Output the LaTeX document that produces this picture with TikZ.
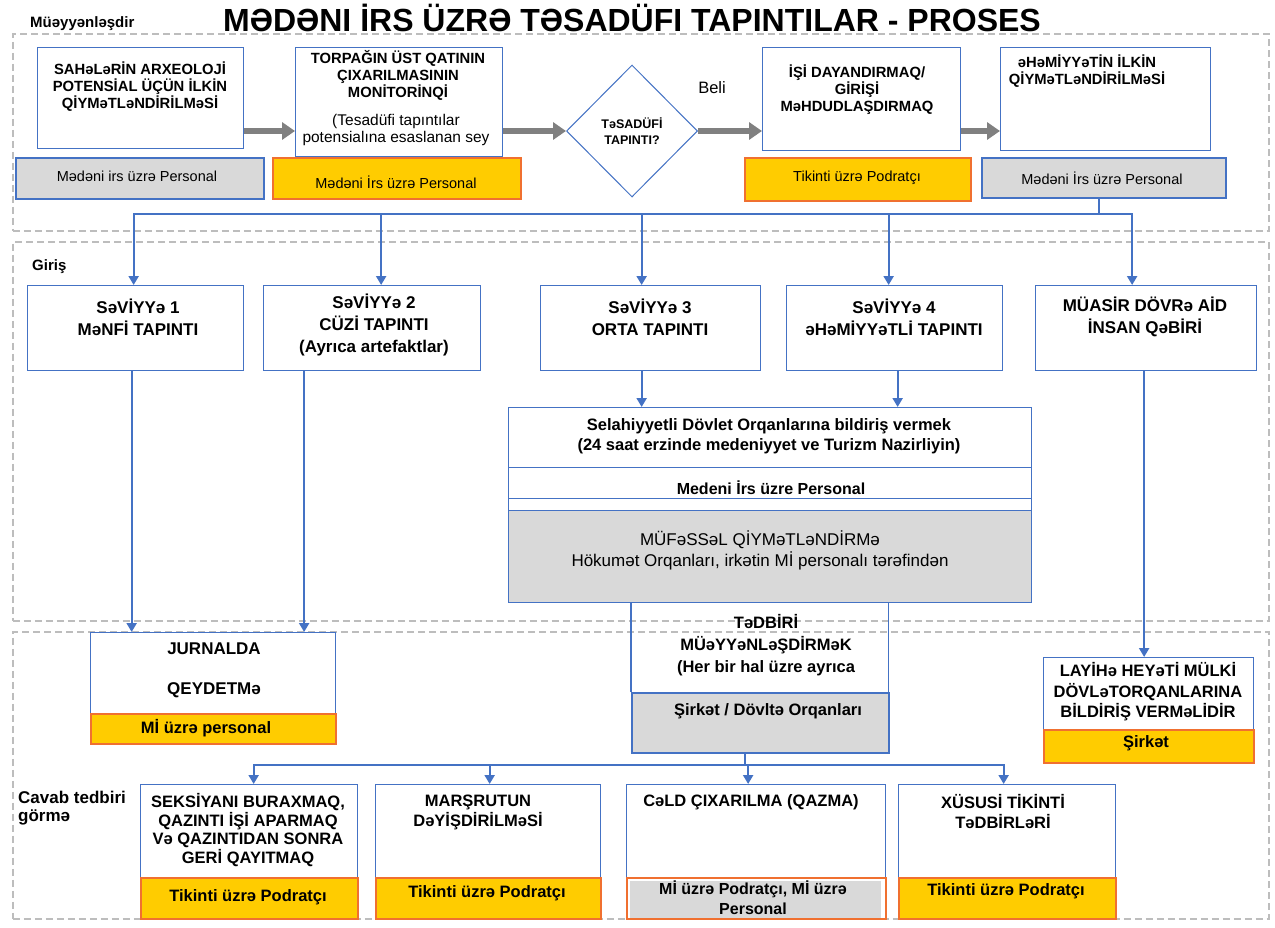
\documentclass[tikz,border=0pt]{standalone}
\usepackage{fontspec}
\setmainfont{Liberation Sans}
\usetikzlibrary{arrows.meta,calc,shapes.geometric}
\definecolor{bblue}{HTML}{4472C4}
\definecolor{lgray}{HTML}{D9D9D9}
\definecolor{yel}{HTML}{FFCC00}
\definecolor{org}{HTML}{F07030}
\definecolor{agray}{HTML}{808080}
\definecolor{rgray}{HTML}{BDBDBD}
\tikzset{
  region/.style={draw=rgray, line width=1.6pt, dash pattern=on 7pt off 4pt, anchor=north west, inner sep=0},
  wbox/.style={draw=bblue, line width=1.3pt, fill=white, anchor=north west, inner sep=0},
  glab/.style={draw=bblue, line width=1.5pt, fill=lgray, anchor=north west, inner sep=0},
  ylab/.style={draw=org, line width=1.5pt, fill=yel, anchor=north west, inner sep=0},
  hd/.style={font=\bfseries\fontsize{14.8}{17}\selectfont, align=center, inner sep=0},
  lvl/.style={font=\bfseries\fontsize{17}{22}\selectfont, align=center, inner sep=0},
  lb/.style={font=\fontsize{14.5}{17}\selectfont, align=center, inner sep=0},
  lbb/.style={font=\bfseries\fontsize{16.5}{20}\selectfont, align=center, inner sep=0},
  big/.style={font=\bfseries\fontsize{16.5}{20}\selectfont, align=center, inner sep=0},
  barrow/.style={draw=bblue, line width=2.2pt, -{Triangle[length=9pt,width=10pt]}},
  bline/.style={draw=bblue, line width=2.2pt, line cap=rect},
  garrow/.style={draw=agray, line width=6pt, -{Triangle[length=13pt,width=17pt]}},
}
\begin{document}
\begin{tikzpicture}[x=1pt,y=-1pt]
\fill[white] (0,0) rectangle (1275,927);
\useasboundingbox (0,0) rectangle (1275,927);

% regions
\node[region, minimum width=1256pt, minimum height=197pt] (R1) at (12,33) {};
\node[region, minimum width=1256pt, minimum height=379pt] (R2) at (12,241) {};
\node[region, minimum width=1256pt, minimum height=287pt] (R3) at (12,631) {};

\node[font=\bfseries\fontsize{32}{34}\selectfont, inner sep=0, anchor=base] (title) at (632,31) {MƏDƏNI İRS ÜZRƏ TƏSADÜFI TAPINTILAR - PROSES};
\node[font=\bfseries\fontsize{15}{17}\selectfont, anchor=base west, inner sep=0] (s1) at (30,27) {Müəyyənləşdir};
\node[font=\bfseries\fontsize{15}{17}\selectfont, anchor=base west, inner sep=0] (s2) at (32,270) {Giriş};
\node[font=\bfseries\fontsize{17}{19}\selectfont, anchor=base west, inner sep=0] (s3a) at (18,803) {Cavab tedbiri};
\node[font=\bfseries\fontsize{17}{19}\selectfont, anchor=base west, inner sep=0] (s3b) at (18,821) {görmə};

% top row
\node[wbox, minimum width=206pt, minimum height=101pt] (A) at (37,47) {};
\node[glab, minimum width=248pt, minimum height=41pt] (Al) at (15,157) {};
\node[wbox, minimum width=207pt, minimum height=109pt] (B) at (295,47) {};
\node[ylab, minimum width=248pt, minimum height=41pt] (Bl) at (272,157) {};
\node[diamond, draw=bblue, line width=1pt, fill=white, minimum width=131pt, minimum height=132pt, inner sep=0, font=\bfseries\fontsize{12.5}{16}\selectfont, align=center] (dia) at (632,131) {TəSADÜFİ\\TAPINTI?};
\node[wbox, minimum width=198pt, minimum height=103pt] (C) at (762,47) {};
\node[ylab, minimum width=226pt, minimum height=43pt] (Cl) at (744,157) {};
\node[wbox, minimum width=210pt, minimum height=103pt] (D) at (1000,47) {};
\node[glab, minimum width=244pt, minimum height=40pt] (Dl) at (981,157) {};

\node[hd] (tA) at (140,87) {SAHəLəRİN ARXEOLOJİ\\POTENSİAL ÜÇÜN İLKİN\\QİYMəTLəNDİRİLMəSİ};
\node[lb] (tAl) at (137,176) {Mədəni irs üzrə Personal};
\node[hd] (tB1) at (398,75) {TORPAĞIN ÜST QATININ\\ÇIXARILMASININ\\MONİTORİNQİ};
\node[font=\fontsize{15.5}{17}\selectfont, align=center, inner sep=0] (tB2) at (396,130) {(Tesadüfi tapıntılar\\potensialına esaslanan sey};
\node[lb] (tBl) at (396,182) {Mədəni İrs üzrə Personal};
\node[font=\fontsize{16.5}{18}\selectfont, inner sep=0] (beli) at (712,88) {Beli};
\node[hd] (tC) at (857,90) {İŞİ DAYANDIRMAQ/\\GİRİŞİ\\MəHDUDLAŞDIRMAQ};
\node[lb] (tCl) at (857,178) {Tikinti üzrə Podratçı};
\node[hd] (tD) at (1087,71) {əHəMİYYəTİN İLKİN\\QİYMəTLəNDİRİLMəSİ};
\node[lb] (tDl) at (1102,178) {Mədəni İrs üzrə Personal};

\coordinate (row) at (0,131);
\draw[garrow] (A.east |- row) -- (B.west |- row);
\draw[garrow] (B.east |- row) -- (dia.west);
\draw[garrow] (dia.east) -- (C.west |- row);
\draw[garrow] (C.east |- row) -- (D.west |- row);

% level boxes
\node[wbox, minimum width=216pt, minimum height=85pt] (L1) at (27,285) {};
\node[wbox, minimum width=217pt, minimum height=85pt] (L2) at (263,285) {};
\node[wbox, minimum width=220pt, minimum height=85pt] (L3) at (540,285) {};
\node[wbox, minimum width=216pt, minimum height=85pt] (L4) at (786,285) {};
\node[wbox, minimum width=221pt, minimum height=85pt] (L5) at (1035,285) {};
\node[lvl] (tL1) at (138,317) {SəVİYYə 1\\MəNFİ TAPINTI};
\node[lvl] (tL2) at (374,325) {SəVİYYə 2\\CÜZİ TAPINTI\\(Ayrıca artefaktlar)};
\node[lvl] (tL3) at (650,317) {SəVİYYə 3\\ORTA TAPINTI};
\node[lvl] (tL4) at (894,317) {SəVİYYə 4\\əHəMİYYəTLİ TAPINTI};
\node[lvl] (tL5) at (1145,317) {MÜASİR DÖVRə AİD\\İNSAN QəBİRİ};

\coordinate (bus1) at (0,214);
\coordinate (t1) at ($(L1.north)+(-2,0)$);
\coordinate (t2) at ($(L2.north)+(9,0)$);
\coordinate (t3) at ($(L3.north)+(-9,0)$);
\coordinate (t4) at ($(L4.north)+(-6,0)$);
\coordinate (t5) at ($(L5.north)+(-14,0)$);
\coordinate (dd) at ($(Dl.south)+(-5,0)$);
\draw[bline] (dd) -- (dd |- bus1);
\draw[bline] (t1 |- bus1) -- (t5 |- bus1);
\foreach \t in {t1,t2,t3,t4,t5} \draw[barrow] (\t |- bus1) -- (\t);

% journal
\node[wbox, minimum width=245pt, minimum height=81pt] (J) at (90,632) {};
\node[ylab, minimum width=245pt, minimum height=30pt] (Jl) at (90,713) {};
\node[font=\bfseries\fontsize{17}{19}\selectfont, inner sep=0] (tJ1) at (214,649) {JURNALDA};
\node[font=\bfseries\fontsize{17}{19}\selectfont, inner sep=0] (tJ2) at (214,690) {QEYDETMə};
\node[lbb] (tJl) at (206,728) {Mİ üzrə personal};
\coordinate (b1) at ($(L1.south)+(-4,0)$);
\coordinate (b2) at ($(L2.south)+(-68,0)$);
\draw[barrow] (b1) -- (b1 |- J.north);
\draw[barrow] (b2) -- (b2 |- J.north);

% notification block
\node[wbox, minimum width=523pt, minimum height=60pt] (Sel) at (508,407) {};
\node[wbox, minimum width=523pt, minimum height=31pt] (Med) at (508,467) {};
\node[wbox, minimum width=523pt, minimum height=12pt] (Thin) at (508,498) {};
\node[glab, line width=1.3pt, minimum width=523pt, minimum height=92pt] (Muf) at (508,510) {};
\node[big] (tSel) at (769,436) {Selahiyyetli Dövlet Orqanlarına bildiriş vermek\\(24 saat erzinde medeniyyet ve Turizm Nazirliyin)};
\node[font=\bfseries\fontsize{16}{18}\selectfont, inner sep=0] (tMed) at (771,488) {Medeni İrs üzre Personal};
\node[font=\fontsize{17}{21}\selectfont, align=center, inner sep=0] (tMuf) at (760,550) {MÜFəSSəL QİYMəTLəNDİRMə\\Hökumət Orqanları, irkətin Mİ personalı tərəfindən};
\coordinate (b3) at ($(L3.south)+(-9,0)$);
\coordinate (b4) at ($(L4.south)+(3,0)$);
\draw[barrow] (b3) -- (b3 |- Sel.north);
\draw[barrow] (b4) -- (b4 |- Sel.north);

% measure block
\node[anchor=north west, inner sep=0, minimum width=257pt, minimum height=90pt] (Td) at (631,602) {};
\draw[bblue, line width=1.3pt] (Td.north west) -- (Td.south west);
\draw[bblue, line width=1.3pt] (Td.north east) -- (Td.south east);
\node[glab, minimum width=257pt, minimum height=60pt] (Tl) at (631,692) {};
\node[font=\bfseries\fontsize{16.5}{22}\selectfont, align=center, inner sep=0] (tTd) at (766,645) {TəDBİRİ\\MÜəYYəNLəŞDİRMəK\\(Her bir hal üzre ayrıca};
\node[lbb] (tTl) at (768,711) {Şirkət / Dövltə Orqanları};

% grave
\node[wbox, minimum width=210pt, minimum height=72pt] (LAY) at (1043,657) {};
\node[ylab, minimum width=210pt, minimum height=33pt] (LAYl) at (1043,729) {};
\node[font=\bfseries\fontsize{16.5}{20.5}\selectfont, align=center, inner sep=0] (tLAY) at (1148,692) {LAYİHə HEYəTİ MÜLKİ\\DÖVLəTORQANLARINA\\BİLDİRİŞ VERMəLİDİR};
\node[lbb] (tLAYl) at (1146,743) {Şirkət};
\coordinate (b5) at ($(L5.south)+(-2,0)$);
\draw[barrow] (b5) -- (b5 |- LAY.north);

% response boxes
\node[wbox, minimum width=217pt, minimum height=93pt] (B1) at (140,784) {};
\node[ylab, minimum width=217pt, minimum height=41pt] (B1l) at (140,877) {};
\node[wbox, minimum width=225pt, minimum height=93pt] (B2) at (375,784) {};
\node[ylab, minimum width=225pt, minimum height=41pt] (B2l) at (375,877) {};
\node[wbox, minimum width=259pt, minimum height=93pt] (B3) at (626,784) {};
\node[draw=org, line width=1.5pt, fill=white, anchor=north west, inner sep=0, minimum width=259pt, minimum height=41pt] (B3l) at (626,877) {};
\fill[lgray] ($(B3l.north west)+(4,4)$) rectangle ($(B3l.south east)+(-6,-2)$);
\node[wbox, minimum width=217pt, minimum height=93pt] (B4) at (898,784) {};
\node[ylab, minimum width=217pt, minimum height=41pt] (B4l) at (898,877) {};

\node[font=\bfseries\fontsize{16.5}{18.7}\selectfont, align=center, inner sep=0] (tB1) at (248,830) {SEKSİYANI BURAXMAQ,\\QAZINTI İŞİ APARMAQ\\Və QAZINTIDAN SONRA\\GERİ QAYITMAQ};
\node[font=\bfseries\fontsize{16.5}{20}\selectfont, align=center, inner sep=0] (tB2) at (478,812) {MARŞRUTUN\\DəYİŞDİRİLMəSİ};
\node[font=\bfseries\fontsize{16.5}{20}\selectfont, inner sep=0] (tB3) at (751,802) {CəLD ÇIXARILMA (QAZMA)};
\node[font=\bfseries\fontsize{16.5}{20}\selectfont, align=center, inner sep=0] (tB4) at (1003,812) {XÜSUSİ TİKİNTİ\\TəDBİRLəRİ};
\node[lbb] (tB1l) at (248,897) {Tikinti üzrə Podratçı};
\node[lbb] (tB2l) at (487,893) {Tikinti üzrə Podratçı};
\node[font=\bfseries\fontsize{16}{20}\selectfont, align=center, inner sep=0] (tB3l) at (753,898) {Mİ üzrə Podratçı, Mİ üzrə\\Personal};
\node[lbb] (tB4l) at (1006,891) {Tikinti üzrə Podratçı};

\coordinate (bus2) at (0,765);
\coordinate (dm) at ($(Tl.south)+(-15,0)$);
\coordinate (c1) at ($(B1.north)+(4.5,0)$);
\coordinate (c2) at ($(B2.north)+(1.5,0)$);
\coordinate (c3) at ($(B3.north)+(-8,0)$);
\coordinate (c4) at ($(B4.north)+(-3.5,0)$);
\draw[bline] (dm) -- (dm |- bus2);
\draw[bline] (c1 |- bus2) -- (c4 |- bus2);
\foreach \c in {c1,c2,c3,c4} \draw[barrow] (\c |- bus2) -- (\c);
\end{tikzpicture}
\end{document}
